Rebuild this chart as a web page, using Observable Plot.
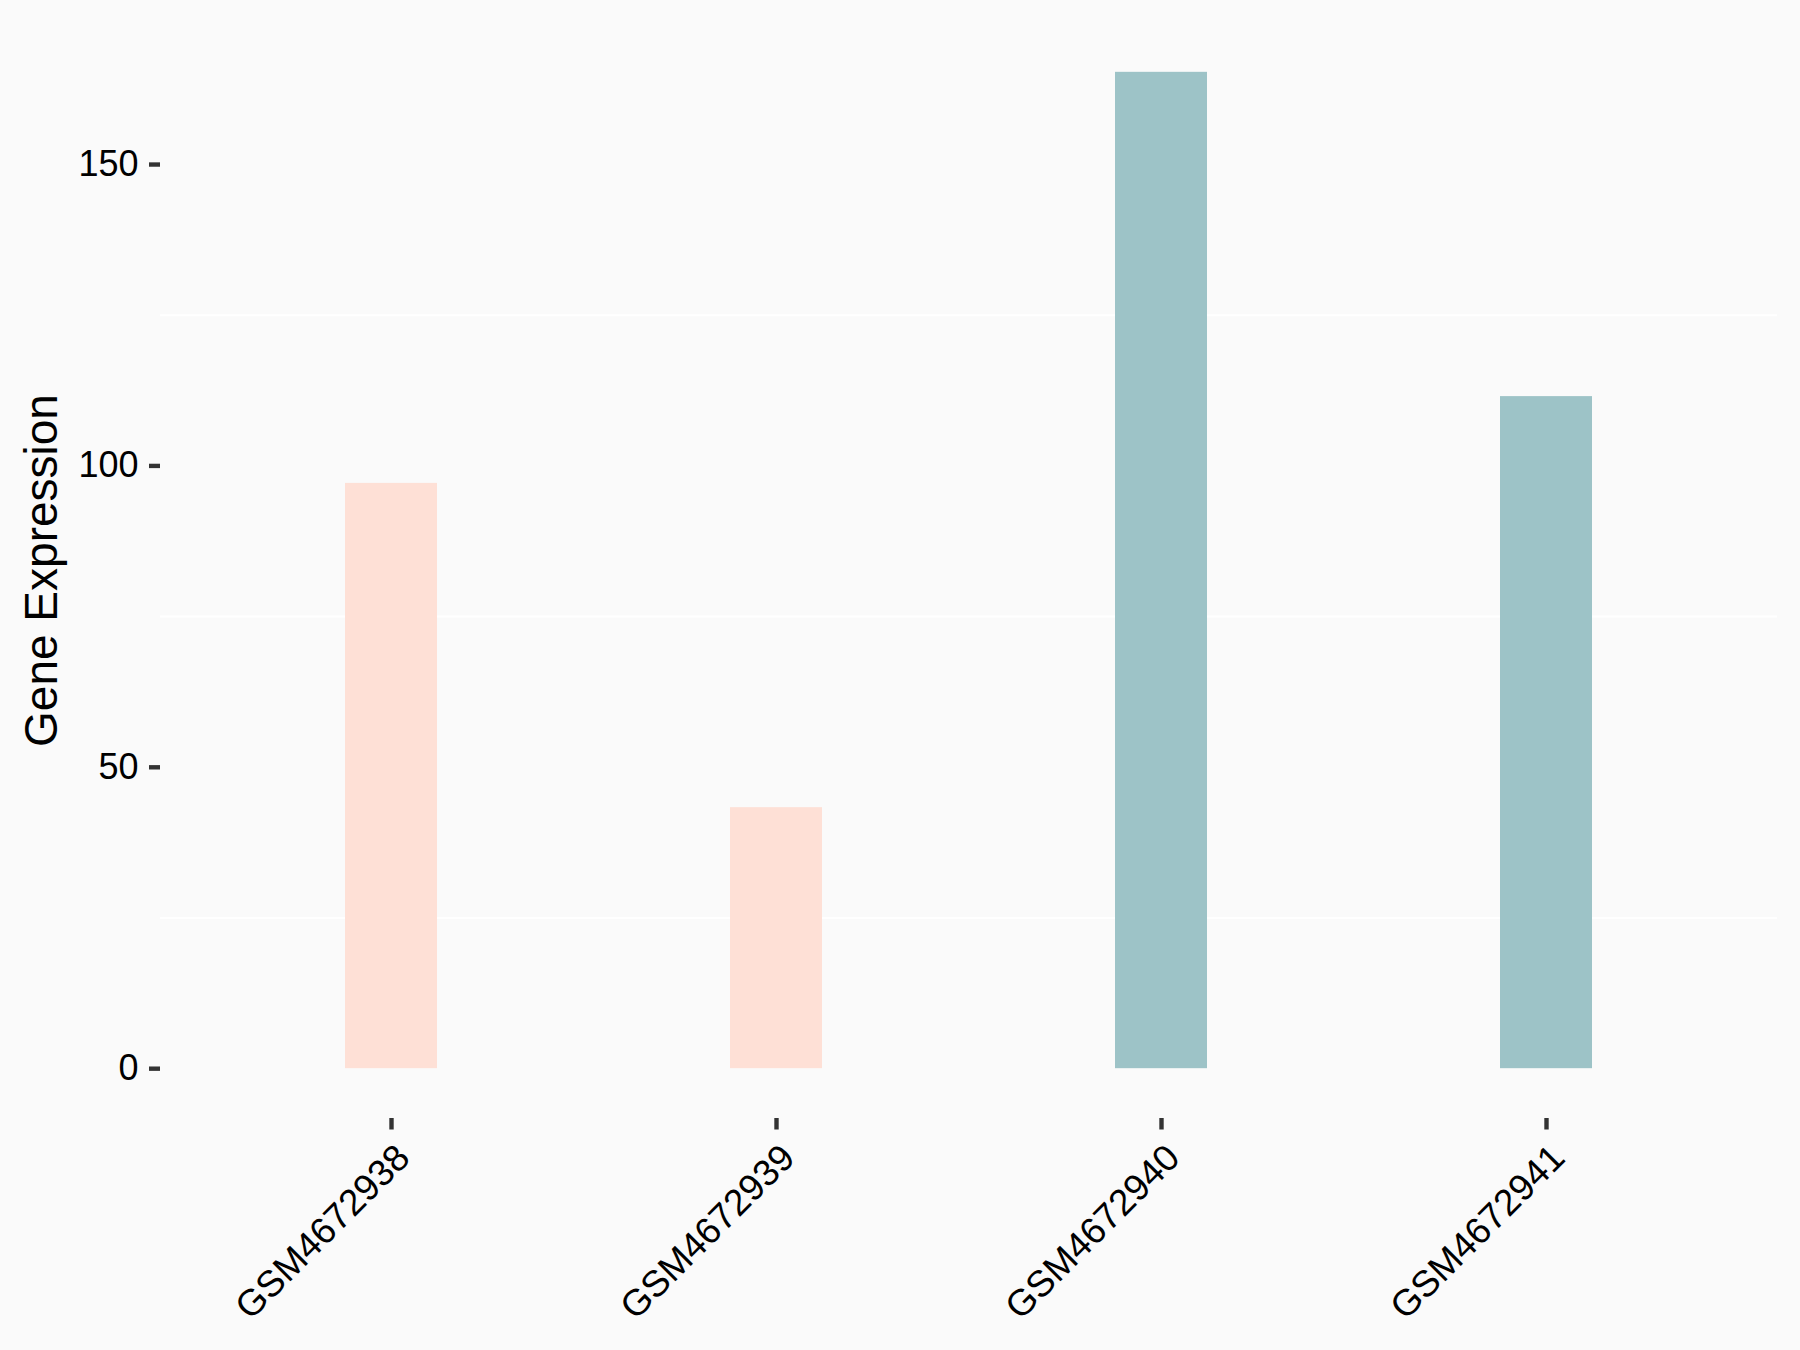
<!DOCTYPE html>
<html><head><meta charset="utf-8">
<script src="https://cdn.jsdelivr.net/npm/d3@7"></script>
<script src="https://cdn.jsdelivr.net/npm/@observablehq/plot@0.6"></script>
<style>
html,body{margin:0;padding:0;background:#FAFAFA;}
svg{display:block;}
</style></head><body><div id="chart"></div>
<script>
const samples = ["GSM4672938", "GSM4672939", "GSM4672940", "GSM4672941"];
const expression = [97.1, 43.3, 165.3, 111.5];
const groups = ["Group 1", "Group 1", "Group 2", "Group 2"];
const groupNames = ["Group 1", "Group 2"];
const groupColors = ["#FEE0D6", "#9DC3C7"];
const yTicks = [0, 50, 100, 150];
const yMinorGrid = [25, 75, 125];
const yTitle = "Gene Expression";

const data = samples.map((s, i) => ({sample: s, value: expression[i], group: groups[i]}));
const ymax = d3.max(expression);

const chart = Plot.plot({
  width: 1800,
  height: 1350,
  marginLeft: 160,
  marginRight: 23,
  marginTop: 22,
  marginBottom: 232,
  style: {background: "#FAFAFA", fontFamily: "'Liberation Sans', Arial, sans-serif", color: "#000"},
  x: {domain: samples, paddingInner: 0.761, paddingOuter: 0.4805, axis: null},
  y: {domain: [-0.05 * ymax, 1.05 * ymax], axis: null},
  color: {domain: groupNames, range: groupColors},
  marks: [
    Plot.ruleY(yMinorGrid, {stroke: "#FFFFFF", strokeWidth: 2}),
    Plot.barY(data, {x: "sample", y: "value", fill: "group"}),
    Plot.axisY({ticks: yTicks, tickSize: 11, tickPadding: 11, fontSize: 36, stroke: "#333333", strokeWidth: 4.4, fill: "#000", label: null}),
    Plot.axisX({tickSize: 11.5, tickFormat: () => "", stroke: "#333333", strokeWidth: 4.4, label: null}),
    Plot.axisX({tickSize: 0, tickRotate: -45, tickPadding: 33, dx: 12, fontSize: 37, fill: "#000", label: null}),
    Plot.text([yTitle], {frameAnchor: "left", rotate: -90, dx: -136, textAnchor: "middle", lineAnchor: "top", fontSize: 46, fill: "#000"})
  ]
});
document.getElementById("chart").appendChild(chart);
</script>
</body></html>
